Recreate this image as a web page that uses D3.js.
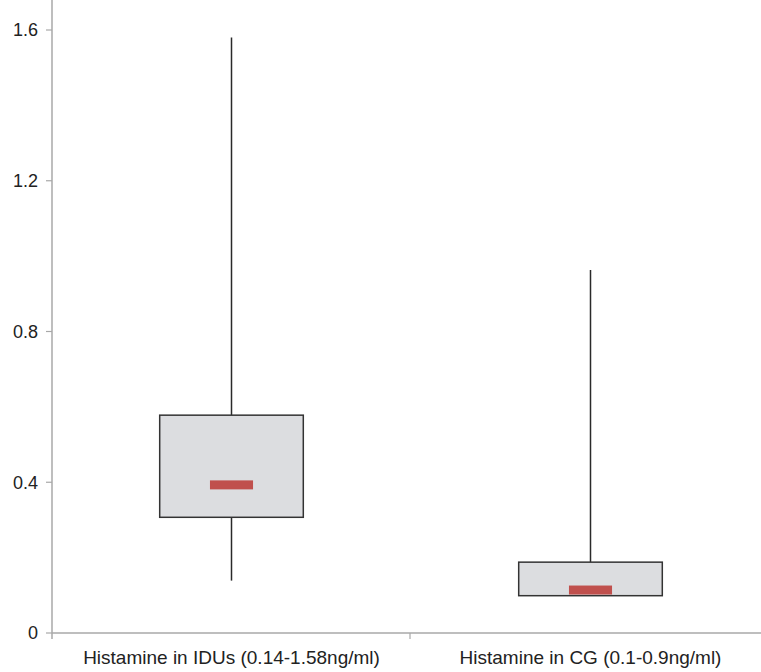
<!DOCTYPE html>
<html><head><meta charset="utf-8">
<script src="https://cdn.jsdelivr.net/npm/d3@7"></script>
<style>body{margin:0;background:#fff}svg{display:block}</style>
</head><body><svg id="c" width="761" height="672"></svg>
<script>
const categories = ["Histamine in IDUs (0.14-1.58ng/ml)", "Histamine in CG (0.1-0.9ng/ml)"];
const whiskerLow  = [0.139, 0.099];
const q1          = [0.307, 0.099];
const median      = [0.393, 0.114];
const q3          = [0.578, 0.188];
const whiskerHigh = [1.58, 0.963];
const yTicks = [0, 0.4, 0.8, 1.2, 1.6];
const yTickLabels = ["0", "0.4", "0.8", "1.2", "1.6"];

const svg = d3.select("#c");
const x = d3.scaleBand().domain(categories).range([52, 770]).padding(0);
const y = d3.scaleLinear().domain([0, 1.6]).range([633, 30]);
const font = "'Liberation Sans', Arial, Helvetica, sans-serif";

// y axis
svg.append("line").attr("x1", 52).attr("x2", 52).attr("y1", 0).attr("y2", 639)
  .attr("stroke", "#a8a8a8").attr("stroke-width", 1.5);
yTicks.forEach((t, i) => {
  svg.append("line").attr("x1", 46).attr("x2", 52).attr("y1", y(t)).attr("y2", y(t))
    .attr("stroke", "#a8a8a8").attr("stroke-width", 1.2);
  svg.append("text").attr("x", 38).attr("y", y(t)).attr("dy", "0.35em")
    .attr("text-anchor", "end").attr("font-family", font).attr("font-size", 18)
    .attr("fill", "#222").text(yTickLabels[i]);
});
// x axis
svg.append("line").attr("x1", 52).attr("x2", 761).attr("y1", y(0)).attr("y2", y(0))
  .attr("stroke", "#a8a8a8").attr("stroke-width", 1.5);
const boundary = x(categories[1]);
svg.append("line").attr("x1", boundary - 1).attr("x2", boundary - 1).attr("y1", y(0)).attr("y2", y(0) + 6)
  .attr("stroke", "#a8a8a8").attr("stroke-width", 1.2);
categories.forEach(c => {
  svg.append("text").attr("x", x(c) + x.bandwidth() / 2).attr("y", 664)
    .attr("text-anchor", "middle").attr("font-family", font).attr("font-size", 19)
    .attr("fill", "#222").text(c);
});

const bw = x.bandwidth() * 0.4;
const mw = x.bandwidth() * 0.12;
categories.forEach((c, i) => {
  const cx = x(c) + x.bandwidth() / 2;
  const g = svg.append("g");
  g.append("line").attr("x1", cx).attr("x2", cx).attr("y1", y(whiskerHigh[i])).attr("y2", y(q3[i]))
    .attr("stroke", "#2a2a2a").attr("stroke-width", 1.5);
  g.append("line").attr("x1", cx).attr("x2", cx).attr("y1", y(q1[i])).attr("y2", y(whiskerLow[i]))
    .attr("stroke", "#2a2a2a").attr("stroke-width", 1.5);
  g.append("rect").attr("x", cx - bw / 2).attr("y", y(q3[i]))
    .attr("width", bw).attr("height", y(q1[i]) - y(q3[i]))
    .attr("fill", "#dcdde0").attr("stroke", "#333").attr("stroke-width", 1.5);
  const mh = 9;
  const my = y(median[i]) - mh / 2;
  g.append("rect").attr("x", cx - mw / 2).attr("y", my).attr("width", mw).attr("height", mh)
    .attr("fill", "#c0504d");
});
</script></body></html>
